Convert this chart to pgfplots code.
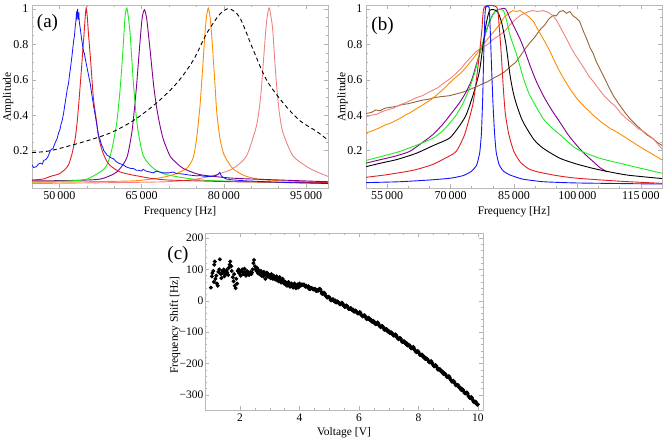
\documentclass[border=0pt]{standalone}
\usepackage{fontspec}
\setmainfont{Liberation Serif}
\usepackage{pgfplots}
\pgfplotsset{compat=1.18}
\definecolor{cblue}{RGB}{20,20,255}
\definecolor{cred}{RGB}{225,30,30}
\definecolor{cgreen}{RGB}{30,235,30}
\definecolor{cpurple}{RGB}{130,0,140}
\definecolor{corange}{RGB}{255,140,0}
\definecolor{cpink}{RGB}{240,130,130}
\definecolor{cbrown}{RGB}{150,100,50}
\pgfplotsset{
 mstyle/.style={
  scale only axis, anchor=south west,
  axis line style={draw=gray!55, line width=0.6pt},
  tick style={gray!60, line width=0.5pt},
  tick align=inside,
  major tick length=4pt, minor tick length=2.2pt,
  scaled x ticks=false, scaled y ticks=false,
  tick label style={font=\fontsize{12}{12}\selectfont, text=black},
  label style={font=\fontsize{11.5}{12}\selectfont},
  every axis plot/.append style={line width=0.9pt},
  /pgf/number format/assume math mode=true,
 }
}
\begin{document}
\begin{tikzpicture}
\path[use as bounding box] (0,0) rectangle (669pt,-443pt);
% ---------------- (a)
\begin{axis}[mstyle, at={(32pt,-188.3pt)}, width=296pt, height=183pt,
 xmin=45000, xmax=99000, ymin=-0.012, ymax=1.02,
 xtick={50000,65000,80000,95000}, xticklabels={50\,000,65\,000,80\,000,95\,000},
 minor x tick num=2,
 ytick={0.2,0.4,0.6,0.8,1}, yticklabels={0.2,0.4,0.6,0.8,1}, minor y tick num=3,
 xlabel={Frequency [Hz]}, ylabel={Amplitude},
 xlabel style={at={(axis description cs:0.5,-0.13)}, anchor=center},
 ylabel style={at={(axis description cs:-0.081,0.5)}, anchor=center},
]
\addplot[cpink, smooth, tension=0.4] coordinates {(45000,0.015) (60000,0.02) (69570,0.025) (75000,0.04) (78670,0.065) (81700,0.10) (84130,0.17) (85950,0.34) (86700,0.50) (87160,0.68) (87770,0.92) (88260,1.005) (88860,0.90) (89200,0.75) (89590,0.58) (90100,0.42) (90800,0.30) (92630,0.17) (95660,0.10) (99000,0.055)};
\addplot[corange, smooth, tension=0.4] coordinates {(45000,0.022) (55000,0.025) (63500,0.03) (68000,0.045) (70780,0.065) (73210,0.10) (74400,0.16) (75030,0.27) (75640,0.45) (75940,0.58) (76250,0.72) (76550,0.86) (76850,0.96) (77160,1.005) (77460,0.96) (77760,0.86) (78070,0.72) (78370,0.58) (78700,0.42) (79280,0.27) (80000,0.18) (81100,0.12) (82000,0.09) (84130,0.055) (87770,0.035) (99000,0.02)};
\addplot[cpurple, smooth, tension=0.4] coordinates {(45000,0.03) (52000,0.032) (57440,0.04) (60470,0.08) (62290,0.16) (63200,0.30) (63700,0.44) (64110,0.58) (64720,0.82) (65100,0.95) (65510,0.995) (65900,0.95) (66230,0.86) (66700,0.72) (67150,0.58) (67700,0.45) (68360,0.34) (69000,0.26) (70180,0.17) (71390,0.13) (72600,0.10) (75640,0.065) (81700,0.045) (90000,0.035) (99000,0.025)};
\addplot[cgreen, smooth, tension=0.4] coordinates {(45000,0.025) (52000,0.03) (55000,0.04) (57440,0.08) (58500,0.11) (59260,0.17) (59860,0.25) (60470,0.36) (61000,0.52) (61380,0.67) (61700,0.82) (61990,0.96) (62290,1.005) (62600,0.95) (62900,0.86) (63200,0.72) (63500,0.58) (64000,0.40) (64410,0.30) (65320,0.17) (67150,0.10) (69570,0.065) (75640,0.035) (85000,0.025) (99000,0.015)};
\addplot[cred, smooth, tension=0.4] coordinates {(45000,0.035) (47000,0.04) (48340,0.055) (50000,0.07) (51200,0.10) (51670,0.12) (52280,0.18) (52890,0.27) (53300,0.38) (53620,0.50) (54000,0.65) (54300,0.78) (54500,0.86) (54700,0.95) (54890,1.005) (55100,0.95) (55300,0.86) (55620,0.74) (55900,0.62) (56220,0.49) (56800,0.36) (57130,0.28) (57800,0.20) (58650,0.14) (59500,0.11) (61080,0.08) (63000,0.065) (64720,0.055) (66500,0.045) (69570,0.035) (75000,0.03) (81700,0.025) (90000,0.022) (99000,0.02)};
\addplot[cblue, line width=0.8pt] coordinates {(45000,0.12) (45300,0.105) (45800,0.11) (46200,0.125) (46500,0.13) (46900,0.125) (47120,0.145) (47500,0.15) (47800,0.16) (48100,0.18) (48340,0.20) (48600,0.21) (48800,0.21) (49100,0.235) (49300,0.25) (49600,0.27) (49850,0.30) (50100,0.32) (50300,0.35) (50500,0.37) (50760,0.41) (51000,0.46) (51200,0.50) (51450,0.55) (51670,0.58) (51850,0.63) (52000,0.66) (52150,0.70) (52280,0.73) (52450,0.78) (52600,0.82) (52750,0.85) (52890,0.90) (53000,0.93) (53100,0.97) (53200,0.95) (53310,1.0) (53450,0.94) (53550,0.98) (53620,0.93) (53750,0.90) (53850,0.88) (54000,0.84) (54100,0.82) (54250,0.79) (54400,0.76) (54550,0.75) (54710,0.72) (54900,0.69) (55100,0.66) (55350,0.62) (55620,0.58) (55800,0.54) (56000,0.50) (56250,0.45) (56530,0.40) (56800,0.35) (57000,0.31) (57200,0.28) (57440,0.26) (57700,0.23) (57900,0.22) (58100,0.20) (58350,0.19) (58700,0.175) (59000,0.17) (59400,0.16) (59860,0.155) (60300,0.14) (60800,0.13) (61200,0.125) (61680,0.12) (62100,0.11) (62500,0.105) (63000,0.10) (63500,0.10) (64000,0.09) (64400,0.09) (64900,0.085) (65320,0.095) (65800,0.085) (66500,0.08) (67100,0.075) (67750,0.085) (68300,0.08) (69000,0.075) (70000,0.075) (70780,0.08) (71400,0.07) (72000,0.07) (72600,0.068) (73210,0.065) (73900,0.062) (74500,0.06) (75100,0.058) (75640,0.06) (76300,0.056) (77000,0.055) (77800,0.055) (78500,0.06) (78900,0.065) (79280,0.078) (79500,0.06) (79800,0.05) (80500,0.04) (81700,0.035) (84000,0.03) (87770,0.025) (92000,0.02) (99000,0.015)};
\addplot[black, dashed, dash pattern=on 4pt off 3pt, smooth, tension=0.5] coordinates {(45000,0.19) (48340,0.20) (54400,0.25) (59260,0.30) (63500,0.37) (67750,0.47) (71390,0.58) (74420,0.71) (76850,0.86) (79280,0.97) (80980,1.0) (82920,0.95) (85340,0.77) (87770,0.60) (90800,0.47) (93840,0.37) (96870,0.31) (99000,0.26)};
\end{axis}
% ---------------- (b)
\begin{axis}[mstyle, at={(366pt,-188.3pt)}, width=296pt, height=183pt,
 xmin=50000, xmax=120000, ymin=-0.012, ymax=1.02,
 xtick={55000,70000,85000,100000,115000}, xticklabels={55\,000,70\,000,85\,000,100\,000,115\,000},
 minor x tick num=2,
 ytick={0.2,0.4,0.6,0.8,1}, yticklabels={0.2,0.4,0.6,0.8,1}, minor y tick num=3,
 xlabel={Frequency [Hz]}, ylabel={Amplitude},
 xlabel style={at={(axis description cs:0.5,-0.13)}, anchor=center},
 ylabel style={at={(axis description cs:-0.079,0.5)}, anchor=center},
]
\addplot[cbrown] coordinates {(50000,0.41) (51200,0.415) (52300,0.43) (53300,0.425) (54500,0.44) (55800,0.445) (57200,0.45) (58500,0.46) (60000,0.465) (61830,0.476) (63300,0.485) (64800,0.49) (66300,0.50) (67800,0.505) (69700,0.51) (71300,0.52) (72900,0.53) (74500,0.545) (76030,0.56) (77400,0.575) (78800,0.59) (80200,0.61) (81530,0.626) (82800,0.645) (84060,0.673) (85470,0.70) (86800,0.745) (87800,0.78) (88790,0.81) (89900,0.84) (91100,0.88) (92300,0.91) (93300,0.945) (94300,0.964) (95000,0.96) (95800,0.985) (96670,0.99) (97400,0.975) (98200,0.985) (99000,0.96) (99830,0.946) (100500,0.93) (101300,0.88) (102190,0.83) (103000,0.78) (103700,0.75) (104500,0.70) (105340,0.66) (106400,0.61) (107400,0.56) (108490,0.51) (109600,0.47) (110500,0.44) (111400,0.41) (112440,0.38) (113700,0.35) (115000,0.32) (116390,0.29) (117700,0.27) (119000,0.245) (120000,0.23)};
\addplot[cpink] coordinates {(50000,0.39) (51200,0.40) (52500,0.405) (53800,0.42) (55000,0.43) (56500,0.44) (57880,0.457) (59300,0.47) (60700,0.485) (62000,0.50) (63300,0.51) (64500,0.525) (65770,0.54) (67000,0.555) (68300,0.58) (69800,0.605) (71300,0.635) (72500,0.665) (73700,0.70) (74900,0.73) (76030,0.76) (77400,0.78) (78800,0.80) (80200,0.83) (81530,0.85) (82800,0.875) (84060,0.91) (85300,0.94) (86600,0.965) (88000,0.98) (89300,0.99) (90600,0.985) (91930,0.99) (93100,0.98) (94300,0.96) (95200,0.93) (96300,0.88) (97460,0.83) (98500,0.78) (99500,0.74) (100610,0.70) (101700,0.66) (102700,0.62) (103760,0.59) (105000,0.55) (106300,0.51) (107700,0.476) (109000,0.45) (110300,0.41) (111650,0.38) (113000,0.355) (114300,0.325) (115590,0.31) (116700,0.29) (117800,0.27) (118900,0.24) (120000,0.21)};
\addplot[corange] coordinates {(50000,0.30) (51200,0.31) (52300,0.32) (53300,0.33) (54500,0.345) (55800,0.355) (57000,0.37) (57880,0.38) (59200,0.40) (60500,0.415) (61800,0.435) (63200,0.455) (64500,0.475) (65770,0.495) (67000,0.52) (68400,0.55) (69700,0.58) (71000,0.61) (72300,0.635) (73650,0.67) (75000,0.71) (76300,0.75) (77600,0.795) (78900,0.835) (80200,0.87) (81530,0.91) (82600,0.95) (83700,0.975) (84700,0.99) (85600,0.985) (86420,0.99) (87400,0.975) (88500,0.955) (89570,0.93) (90700,0.88) (91930,0.83) (93100,0.78) (94300,0.72) (95500,0.66) (96670,0.61) (98200,0.55) (99830,0.495) (101800,0.445) (103760,0.40) (105700,0.36) (107700,0.326) (109700,0.30) (111650,0.27) (113600,0.24) (115590,0.21) (117800,0.18) (120000,0.148)};
\addplot[cpurple, smooth, tension=0.4] coordinates {(50000,0.13) (53500,0.15) (57000,0.17) (60240,0.195) (63000,0.24) (65770,0.29) (68200,0.35) (70500,0.42) (72100,0.47) (73650,0.53) (75000,0.60) (76020,0.68) (77300,0.78) (78380,0.87) (79600,0.95) (80740,0.99) (82000,1.0) (83000,1.0) (84060,0.946) (85200,0.89) (86420,0.83) (87600,0.76) (88790,0.68) (90300,0.59) (91930,0.51) (93900,0.43) (95880,0.36) (97800,0.29) (99830,0.23) (101800,0.18) (103760,0.138) (105300,0.105) (106920,0.082)};
\addplot[cgreen, smooth, tension=0.4] coordinates {(50000,0.145) (54000,0.17) (57880,0.195) (61800,0.23) (65770,0.27) (68500,0.32) (71280,0.40) (73000,0.47) (74430,0.55) (75700,0.64) (76800,0.74) (78000,0.84) (79160,0.93) (80740,0.99) (81600,0.995) (82500,0.99) (83300,0.93) (84060,0.85) (85640,0.74) (87210,0.61) (88400,0.53) (89570,0.476) (91930,0.38) (93900,0.33) (95880,0.29) (99830,0.21) (105340,0.157) (111650,0.12) (116000,0.095) (120000,0.073)};
\addplot[black, smooth, tension=0.4] coordinates {(50000,0.11) (53500,0.13) (57260,0.15) (61830,0.185) (66000,0.23) (69700,0.27) (71800,0.33) (73650,0.40) (75400,0.52) (76800,0.645) (77600,0.78) (78380,0.91) (79200,0.99) (80300,0.995) (81200,0.98) (82100,0.92) (83100,0.80) (84060,0.626) (84800,0.53) (85640,0.457) (86800,0.38) (88000,0.326) (89800,0.26) (91930,0.213) (95880,0.157) (99800,0.125) (103760,0.10) (107700,0.08) (111650,0.063) (116000,0.052) (120000,0.043)};
\addplot[cred, smooth, tension=0.4] coordinates {(50000,0.05) (55000,0.065) (61200,0.09) (65500,0.12) (68500,0.155) (71280,0.195) (73300,0.29) (75230,0.457) (76100,0.60) (76800,0.74) (77400,0.88) (77980,1.01) (80900,1.01) (81500,0.90) (82000,0.74) (82400,0.58) (82900,0.42) (83700,0.30) (84900,0.20) (86420,0.138) (88300,0.10) (90370,0.082) (95000,0.06) (99830,0.045) (110000,0.028) (120000,0.016)};
\addplot[cblue, smooth, tension=0.3] coordinates {(50000,0.02) (58000,0.025) (65150,0.035) (70000,0.045) (73040,0.06) (75000,0.085) (76190,0.12) (76900,0.19) (77300,0.30) (77600,0.50) (77850,0.75) (78100,0.95) (78300,1.01) (79100,1.01) (79350,0.90) (79650,0.70) (80000,0.48) (80400,0.30) (80800,0.19) (81500,0.12) (82500,0.085) (84060,0.063) (87000,0.04) (91930,0.025) (100000,0.018) (120000,0.012)};
\end{axis}
% ---------------- (c)
\begin{axis}[mstyle, at={(205pt,-410pt)}, width=278pt, height=177pt,
 xmin=0.82, xmax=10.17, ymin=-348, ymax=216,
 xtick={2,4,6,8,10}, xticklabels={2,4,6,8,10}, minor x tick num=3,
 ytick={-300,-200,-100,0,100,200}, yticklabels={−300,−200,−100,0,100,200}, minor y tick num=4,
 tick label style={font=\fontsize{11.5}{12}\selectfont, text=black},
 yticklabel style={inner sep=1.5pt},
 xlabel={Voltage [V]}, ylabel={Frequency Shift [Hz]},
 xlabel style={at={(axis description cs:0.5,-0.13)}, anchor=center},
 ylabel style={at={(axis description cs:-0.108,0.48)}, anchor=center},
]
\addplot[only marks, mark=*, mark size=1.5pt, black] coordinates {
(1.02,42) (1.05,78) (1.07,88) (1.10,95) (1.12,60) (1.13,115) (1.15,125) (1.17,70) (1.20,80) (1.22,55) (1.25,48) (1.27,92) (1.30,100) (1.32,132) (1.35,85) (1.37,72) (1.40,95) (1.42,88) (1.45,100) (1.47,78) (1.50,92) (1.52,85) (1.55,98) (1.57,90) (1.60,82) (1.62,105) (1.65,115) (1.67,125) (1.70,110) (1.72,95) (1.75,75) (1.78,62) (1.80,85) (1.82,48) (1.85,40) (1.87,70) (1.90,55) (1.92,95) (1.95,100) (1.97,88) (2.00,92) (2.02,80) (2.05,95) (2.08,100) (2.10,85) (2.13,90) (2.15,102) (2.18,88) (2.20,80) (2.23,95) (2.25,85) (2.28,90) (2.30,82) (2.33,88) (2.35,92) (2.38,85) (2.40,90) (2.42,100) (2.45,120) (2.47,130) (2.50,110) (2.52,100) (2.55,95) (2.57,105) (2.60,88) (2.62,98) (2.65,85) (2.68,90) (2.70,95) (2.72,80) (2.75,88) (2.78,78) (2.80,92) (2.82,85) (2.85,70) (2.88,82) (2.90,90) (2.92,78) (2.95,85) (2.98,75) (3.00,80) (3.03,72) (3.05,85) (3.08,78) (3.10,70) (3.13,80) (3.15,75) (3.18,68) (3.20,72) (3.23,78) (3.25,65) (3.28,70) (3.30,62) (3.33,75) (3.35,68) (3.38,58) (3.40,65) (3.43,70) (3.45,60) (3.48,55) (3.50,62) (3.53,52) (3.55,58) (3.58,48) (3.60,55) (3.63,60) (3.65,50) (3.68,45) (3.70,52) (3.73,55) (3.75,48) (3.78,42) (3.80,50) (3.83,55) (3.85,45) (3.88,40) (3.90,48) (3.93,52) (3.95,42) (3.98,45)
(4.00,55) (4.05,49) (4.10,51) (4.15,52) (4.20,45) (4.25,45) (4.30,46) (4.35,37) (4.40,41) (4.45,37) (4.50,38) (4.55,32) (4.60,34) (4.65,36) (4.70,36) (4.75,23) (4.80,23) (4.85,23) (4.90,14) (4.95,12)
(5.00,11) (5.05,2) (5.10,4) (5.15,0) (5.20,1) (5.25,-5) (5.30,-4) (5.35,-11) (5.40,-9) (5.45,-9) (5.50,-17) (5.55,-17) (5.60,-17) (5.65,-26) (5.70,-24) (5.75,-28) (5.80,-28) (5.85,-34) (5.90,-33) (5.95,-40)
(6.00,-39) (6.05,-39) (6.10,-47) (6.15,-48) (6.20,-48) (6.25,-58) (6.30,-55) (6.35,-60) (6.40,-60) (6.45,-67) (6.50,-66) (6.55,-74) (6.60,-72) (6.65,-72) (6.70,-81) (6.75,-82) (6.80,-82) (6.85,-92) (6.90,-91) (6.95,-96)
(7.00,-96) (7.05,-103) (7.10,-102) (7.15,-110) (7.20,-110) (7.25,-110) (7.30,-119) (7.35,-120) (7.40,-121) (7.45,-131) (7.50,-129) (7.55,-135) (7.60,-135) (7.65,-143) (7.70,-142) (7.75,-151) (7.80,-150) (7.85,-151) (7.90,-160) (7.95,-162)
(8.00,-163) (8.05,-173) (8.10,-172) (8.15,-178) (8.20,-179) (8.25,-186) (8.30,-186) (8.35,-195) (8.40,-195) (8.45,-196) (8.50,-205) (8.55,-207) (8.60,-208) (8.65,-219) (8.70,-218) (8.75,-224) (8.80,-225) (8.85,-233) (8.90,-233) (8.95,-242)
(9.00,-243) (9.05,-244) (9.10,-254) (9.15,-256) (9.20,-258) (9.25,-269) (9.30,-268) (9.35,-274) (9.40,-276) (9.45,-284) (9.50,-284) (9.55,-294) (9.60,-294) (9.65,-296) (9.70,-306) (9.75,-309) (9.80,-310) (9.85,-322) (9.90,-322) (9.95,-328) (10.00,-330)
(4.025,49) (4.075,52) (4.125,51) (4.175,47) (4.225,48) (4.275,44) (4.325,38) (4.375,41) (4.425,39) (4.475,36) (4.525,38) (4.575,31) (4.625,32) (4.675,38) (4.725,30) (4.775,22) (4.825,26) (4.875,16) (4.925,10) (4.975,13)
(5.025,7) (5.075,2) (5.125,5) (5.175,-2) (5.225,-5) (5.275,-2) (5.325,-8) (5.375,-11) (5.425,-6) (5.475,-15) (5.525,-20) (5.575,-15) (5.625,-22) (5.675,-26) (5.725,-23) (5.775,-30) (5.825,-34) (5.875,-31) (5.925,-37) (5.975,-40)
(6.025,-36) (6.075,-45) (6.125,-50) (6.175,-46) (6.225,-53) (6.275,-57) (6.325,-54) (6.375,-62) (6.425,-66) (6.475,-64) (6.525,-70) (6.575,-74) (6.625,-69) (6.675,-78) (6.725,-84) (6.775,-80) (6.825,-87) (6.875,-92) (6.925,-90) (6.975,-98)
(7.025,-102) (7.075,-100) (7.125,-106) (7.175,-111) (7.225,-107) (7.275,-116) (7.325,-122) (7.375,-118) (7.425,-126) (7.475,-131) (7.525,-129) (7.575,-137) (7.625,-142) (7.675,-140) (7.725,-146) (7.775,-151) (7.825,-147) (7.875,-157) (7.925,-164) (7.975,-160)
(8.025,-168) (8.075,-173) (8.125,-172) (8.175,-180) (8.225,-185) (8.275,-184) (8.325,-190) (8.375,-196) (8.425,-192) (8.475,-202) (8.525,-209) (8.575,-205) (8.625,-213) (8.675,-219) (8.725,-218) (8.775,-226) (8.825,-232) (8.875,-231) (8.925,-237) (8.975,-243)
(9.025,-240) (9.075,-251) (9.125,-258) (9.175,-255) (9.225,-263) (9.275,-269) (9.325,-268) (9.375,-277) (9.425,-283) (9.475,-282) (9.525,-289) (9.575,-295) (9.625,-292) (9.675,-303) (9.725,-310) (9.775,-307) (9.825,-316) (9.875,-323) (9.925,-322) (9.975,-331)
};
\end{axis}
\node[font=\fontsize{19}{20}\selectfont] at (47.5pt,-23.3pt) {(a)};
\node[font=\fontsize{19}{20}\selectfont] at (382.5pt,-25.8pt) {(b)};
\node[font=\fontsize{19}{20}\selectfont] at (178pt,-255pt) {(c)};
\end{tikzpicture}
\end{document}
